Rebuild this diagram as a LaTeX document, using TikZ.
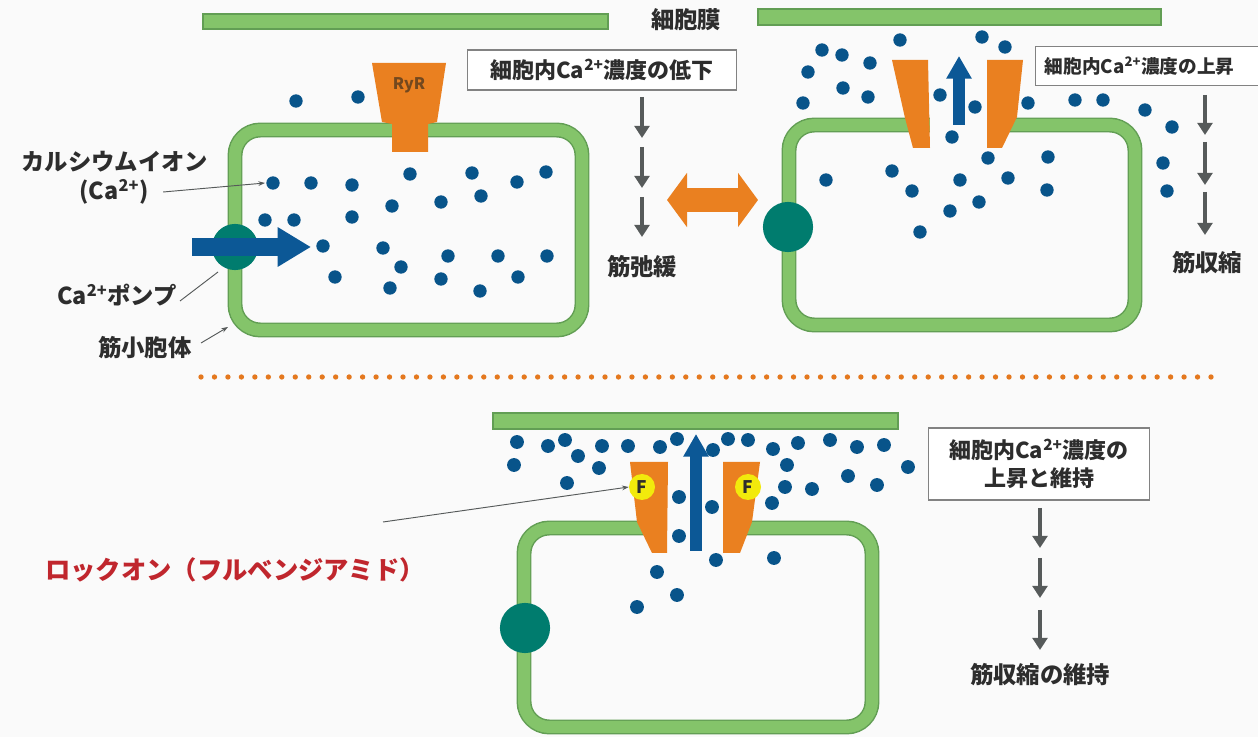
\documentclass[tikz,border=0pt]{standalone}
\usepackage{fontspec}
\setmainfont{Noto Sans CJK JP}
\usetikzlibrary{arrows.meta}

\definecolor{paper}{RGB}{250,250,250}
\definecolor{memgreen}{RGB}{132,196,106}
\definecolor{memedge}{RGB}{98,158,84}
\definecolor{ionblue}{RGB}{8,84,138}
\definecolor{fluxblue}{RGB}{12,88,150}
\definecolor{pumpteal}{RGB}{0,124,110}
\definecolor{ryr}{RGB}{234,128,32}
\definecolor{dotorange}{RGB}{228,120,30}
\definecolor{stepgray}{RGB}{86,90,90}
\definecolor{boxgray}{RGB}{130,130,130}
\definecolor{labelgray}{RGB}{45,45,45}
\definecolor{lockred}{RGB}{192,38,45}
\definecolor{fyellow}{RGB}{242,234,12}

\begin{document}
\begin{tikzpicture}[x=0.75pt,y=-0.75pt,
  membrane/.style={draw=memedge, line width=1.1pt, double=memgreen, double distance=9pt, rounded corners=19pt},
  bar/.style={fill=memgreen, draw=memedge, line width=0.9pt},
  channel/.style={fill=ryr},
  pumpdisk/.style={fill=pumpteal},
  ion/.style={fill=ionblue},
  flux/.style={draw=fluxblue, line width=9pt, -{Triangle[length=17pt,width=18pt]}},
  downstep/.style={draw=stepgray, line width=3.6pt, -{Triangle[length=9pt,width=11pt]}},
  infobox/.style={draw=boxgray, line width=0.9pt, fill=white, inner xsep=9pt, inner ysep=4pt,
    font=\bfseries\fontsize{16.5pt}{21pt}\selectfont, text=labelgray},
  label/.style={font=\bfseries\fontsize{17.5pt}{21pt}\selectfont, text=labelgray},
  pointer/.style={draw=stepgray, line width=0.7pt, -{Stealth[length=5pt,width=3.5pt]}},
  plainpointer/.style={draw=stepgray, line width=0.7pt},
  fmark/.style={circle, fill=fyellow, minimum size=19.5pt, inner sep=0pt,
    font=\bfseries\fontsize{13pt}{13pt}\selectfont, text=labelgray}
]
\useasboundingbox (0,0) rectangle (1258,737);
\fill[paper] (0,0) rectangle (1258,737);

% ---------- cell membranes ----------
\filldraw[bar] (203,14) rectangle (608,29);
\filldraw[bar] (758,9) rectangle (1161,25);
\filldraw[bar] (493,413) rectangle (898,429);
\node[label] (cellmem) at (686,20) {細胞膜};

% ---------- sarcoplasmic reticulum (three states) ----------
\draw[membrane] (235,130) rectangle (582,330);
\draw[membrane] (789,125) rectangle (1135,325);
\draw[membrane] (524,528) rectangle (872,727);

% open channels leave a gap in the membrane
\fill[paper] (930,112) rectangle (987,139);
\fill[paper] (667,516) rectangle (723,541);

% ---------- RyR channels ----------
\fill[channel] (372,63) -- (446,63) -- (437,122) -- (428,124) -- (428,152) -- (392,152) -- (392,124) -- (382,122) -- cycle;
\node[font=\bfseries\fontsize{12pt}{12pt}\selectfont, text={rgb,255:red,115;green,72;blue,30}] (ryrtext) at (409,85) {RyR};

\fill[channel] (892,60) -- (928,60) -- (930,148) -- (913,148) -- (905,118) -- cycle;
\fill[channel] (987,60) -- (1023,60) -- (1017,117) -- (1002,148) -- (987,148) -- cycle;

\fill[channel] (630,462) -- (668,462) -- (667,553) -- (652,553) -- (637,522) -- cycle;
\fill[channel] (723,462) -- (760,462) -- (752,522) -- (740,553) -- (723,553) -- cycle;

% ---------- Ca2+ pumps ----------
\fill[pumpdisk] (235,247) circle[radius=17.3pt];
\fill[pumpdisk] (788,227) circle[radius=18.8pt];
\fill[pumpdisk] (525,628) circle[radius=18.8pt];

% ---------- Ca2+ ions ----------
\foreach \p in {(273,183),(311,183),(352,185),(410,174),(472,173),(517,182),(546,172),
  (392,206),(441,202),(481,196),(265,220),(294,220),(352,217),(323,246),(383,248),
  (401,267),(448,256),(498,256),(547,256),(335,277),(390,288),(441,279),(480,291),
  (518,277),(296,101),(358,97)}
  \fill[ion] \p circle[radius=5pt];

\foreach \p in {(822,50),(842,55),(900,40),(982,37),(1005,47),(808,72),(870,63),
  (843,88),(868,97),(803,103),(940,95),(975,107),(1028,103),(1075,100),(1103,100),
  (1145,110),(1172,127),(1163,163),(1167,191),(952,137),(988,158),(1048,157),
  (1047,190),(1008,178),(960,180),(912,191),(892,171),(950,211),(979,202),(920,232),
  (826,180)}
  \fill[ion] \p circle[radius=5pt];

\foreach \p in {(517,442),(548,446),(565,440),(578,456),(602,446),(628,446),(660,447),
  (677,439),(713,450),(728,439),(748,440),(773,449),(798,443),(830,440),(857,447),
  (884,445),(908,467),(514,465),(599,468),(567,483),(787,465),(785,487),(812,489),
  (848,476),(877,485),(772,503),(679,497),(712,507),(679,536),(657,572),(716,560),
  (774,558),(677,595),(637,607)}
  \fill[ion] \p circle[radius=5.2pt];

% ---------- ion flows ----------
\coordinate (pumpin) at (192,247);
\coordinate (pumpout) at (311,247);
\draw[flux, line width=13.5pt, -{Triangle[length=25pt,width=28pt]}] (pumpin) -- (pumpout);

\coordinate (relbase) at (959,125);
\coordinate (reltip) at (959,56);
\draw[flux] (relbase) -- (reltip);

\coordinate (lockbase) at (696,551);
\coordinate (locktip) at (696,434);
\draw[flux] (lockbase) -- (locktip);

% flubendiamide bound to the channel
\node[fmark] (fleft) at (642,487) {F};
\node[fmark] (fright) at (748,487) {F};

% ---------- relaxation / contraction switch ----------
\coordinate (swl) at (667,200);
\coordinate (swr) at (758,200);
\draw[draw=ryr, line width=18.5pt, {Triangle[length=15pt,width=40pt]}-{Triangle[length=15pt,width=40pt]}] (swl) -- (swr);

% ---------- section divider ----------
\draw[dotorange, line width=4pt, line cap=round, dash pattern=on 0pt off 10.1pt] (201,377) -- (1215,377);

% ---------- left-hand labels ----------
\node[label] (lblcalcium) at (115,162) {カルシウムイオン};
\node[label] (lblca) at (114,192) {(Ca\textsuperscript{2+})};
\coordinate (caion) at (265,183);
\draw[pointer] (lblca.east) ++(10,0) -- (caion);

\node[label] (lblpump) at (117,295) {Ca\textsuperscript{2+}ポンプ};
\coordinate (pumpedge) at (218,272);
\draw[plainpointer] (180,301) -- (pumpedge);

\node[label] (lblsr) at (145,348) {筋小胞体};
\coordinate (sredge) at (228,327);
\draw[pointer] (201,343) -- (sredge);

% ---------- relaxation column ----------
\node[infobox, minimum width=202pt, minimum height=30pt] (boxlow) at (602,70) {細胞内Ca\textsuperscript{2+}濃度の低下};
\coordinate (l0) at (642,97);  \coordinate (l1) at (642,138);
\coordinate (l2) at (642,147); \coordinate (l3) at (642,188);
\coordinate (l4) at (642,197); \coordinate (l5) at (642,237);
\draw[downstep] (l0) -- (l1);
\draw[downstep] (l2) -- (l3);
\draw[downstep] (l4) -- (l5);
\node[label] (relax) at (642,267) {筋弛緩};

% ---------- contraction column ----------
\node[infobox, anchor=west, minimum height=29pt, inner xsep=7pt, text width=180pt, align=left,
  font=\bfseries\fontsize{14pt}{18pt}\selectfont] (boxhigh) at (1035,66) {細胞内Ca\textsuperscript{2+}濃度の上昇};
\coordinate (r0) at (1205,95);  \coordinate (r1) at (1205,135);
\coordinate (r2) at (1205,142); \coordinate (r3) at (1205,185);
\coordinate (r4) at (1205,192); \coordinate (r5) at (1205,235);
\draw[downstep] (r0) -- (r1);
\draw[downstep] (r2) -- (r3);
\draw[downstep] (r4) -- (r5);
\node[label] (contract) at (1207,263) {筋収縮};

% ---------- lock-on column ----------
\node[infobox, align=center, minimum width=166pt, minimum height=54pt] (boxkeep) at (1039,464) {細胞内Ca\textsuperscript{2+}濃度の\\上昇と維持};
\coordinate (b0) at (1040,508); \coordinate (b1) at (1040,548);
\coordinate (b2) at (1040,558); \coordinate (b3) at (1040,598);
\coordinate (b4) at (1040,610); \coordinate (b5) at (1040,650);
\draw[downstep] (b0) -- (b1);
\draw[downstep] (b2) -- (b3);
\draw[downstep] (b4) -- (b5);
\node[label] (keep) at (1040,675) {筋収縮の維持};

% ---------- lock-on label ----------
\node[font=\bfseries\fontsize{19pt}{23pt}\selectfont, text=lockred] (lockon) at (235,570) {ロックオン（フルベンジアミド）};
\coordinate (lockstart) at (383,522);
\draw[pointer] (lockstart) -- (fleft.west);
\end{tikzpicture}
\end{document}
